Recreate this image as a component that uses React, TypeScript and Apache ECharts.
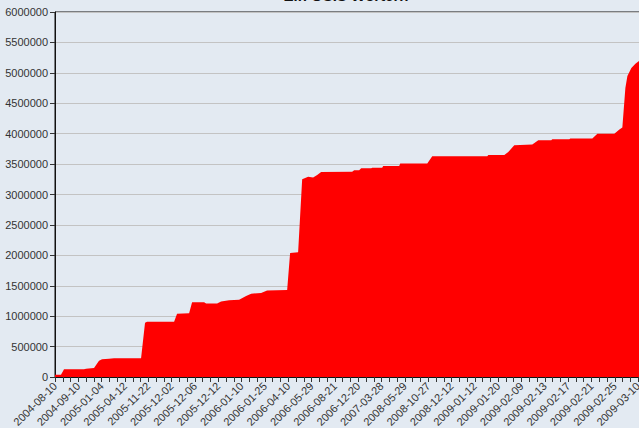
import React, { useEffect, useRef } from "react";
import * as echarts from "echarts";

const titleText = "Ein OSIS Wörtern";

const tickLabels = [
  "2004-08-10", "2004-09-10", "2005-01-04", "2005-04-12", "2005-11-22",
  "2005-12-02", "2005-12-06", "2005-12-12", "2006-01-10", "2006-01-25",
  "2006-04-10", "2006-05-29", "2006-08-21", "2006-12-20", "2007-03-28",
  "2008-05-29", "2008-10-27", "2008-12-12", "2009-01-12", "2009-01-20",
  "2009-02-09", "2009-02-13", "2009-02-17", "2009-02-21", "2009-02-25",
  "2009-03-10",
];

// position along the date axis (in tick steps) and word counts
const stepPos = [
  0, 0.77, 1.16, 3.73, 3.99, 5.02, 5.66, 6.05, 6.95, 7.59,
  11.07, 11.58, 11.84, 15.32, 15.7, 17.25, 17.63, 19.18, 19.43, 20.85,
  21.36, 22.39, 23.68, 24.58, 25.23, 26.51, 27.28, 29.86, 30.24, 31.27,
  31.79, 32.56, 33.2, 33.72, 34.23, 38.22, 38.48, 39.12, 39.38, 40.67,
  40.8, 42.08, 42.21, 44.27, 44.4, 47.88, 48.52, 55.6, 55.73, 57.79,
  58.3, 59.07, 61.39, 62.16, 63.83, 63.96, 66.15, 66.28, 69.11, 69.76,
  71.94, 72.59, 72.97, 73.36, 73.62, 74.13, 74.65, 75.16, 76.45,
];
const words = [
  35000, 35000, 126000, 126000, 137000, 150000, 268000, 290000, 300000, 308000,
  310000, 890000, 910000, 910000, 1040000, 1050000, 1230000, 1230000, 1210000, 1210000,
  1240000, 1260000, 1270000, 1330000, 1370000, 1380000, 1420000, 1430000, 2040000, 2050000,
  3250000, 3290000, 3280000, 3320000, 3370000, 3375000, 3400000, 3400000, 3430000, 3430000,
  3440000, 3440000, 3470000, 3470000, 3510000, 3510000, 3630000, 3630000, 3650000, 3650000,
  3700000, 3810000, 3820000, 3890000, 3890000, 3910000, 3910000, 3920000, 3920000, 4000000,
  4000000, 4070000, 4100000, 4750000, 4950000, 5080000, 5150000, 5200000, 5250000,
];

const yMax = 6000000;
const yStep = 500000;

export default function App() {
  const ref = useRef<HTMLDivElement>(null);
  useEffect(() => {
    if (!ref.current) return;
    const chart = echarts.init(ref.current, null, { renderer: "svg" });
    const data = stepPos.map((p, i) => [p, words[i]]);
    chart.setOption({
      animation: false,
      backgroundColor: "#e3eaf2",
      textStyle: { fontFamily: "Liberation Sans" },
      graphic: [
        {
          type: "text",
          x: 346,
          y: 3,
          style: {
            text: titleText,
            fontFamily: "Liberation Sans",
            fontWeight: "bold",
            fontSize: 15,
            fill: "#111",
            textAlign: "center",
            textVerticalAlign: "bottom",
          },
        },
      ],
      grid: {
        left: 55,
        top: 12,
        width: 622,
        height: 365,
        outerBoundsMode: "none",
        containLabel: false,
        show: true,
        borderColor: "#111",
        borderWidth: 1,
        backgroundColor: "transparent",
      },
      xAxis: {
        type: "value",
        min: 0,
        max: 80,
        interval: 1,
        axisLine: { show: true, lineStyle: { color: "#111", width: 1 } },
        axisTick: { show: true, length: 5, lineStyle: { color: "#333" } },
        splitLine: { show: false },
        axisLabel: {
          rotate: 45,
          fontSize: 11,
          color: "#333",
          margin: 7,
          showMinLabel: true,
          showMaxLabel: true,
          formatter: (v: number) => {
            const r = Math.round(v);
            if (r % 3 !== 0) return "";
            const s = tickLabels[r / 3];
            return s === undefined ? "" : s;
          },
        },
      },
      yAxis: {
        type: "value",
        min: 0,
        max: yMax,
        interval: yStep,
        axisLine: { show: true, lineStyle: { color: "#111", width: 1 } },
        axisTick: { show: true, length: 5, lineStyle: { color: "#333" } },
        splitLine: { show: true, lineStyle: { color: "#c3c3c3", width: 1 } },
        axisLabel: {
          fontSize: 11,
          color: "#333",
          margin: 7,
          formatter: (v: number) => String(Math.round(v)),
        },
      },
      series: [
        {
          type: "line",
          data,
          showSymbol: false,
          symbol: "none",
          lineStyle: { width: 0 },
          areaStyle: { color: "#ff0000", opacity: 1 },
          itemStyle: { color: "#ff0000" },
          z: 1,
        },
      ],
    });
    return () => chart.dispose();
  }, []);
  return (
    <div
      ref={ref}
      style={{ position: "fixed", left: 0, top: 0, width: 639, height: 428 }}
    />
  );
}
